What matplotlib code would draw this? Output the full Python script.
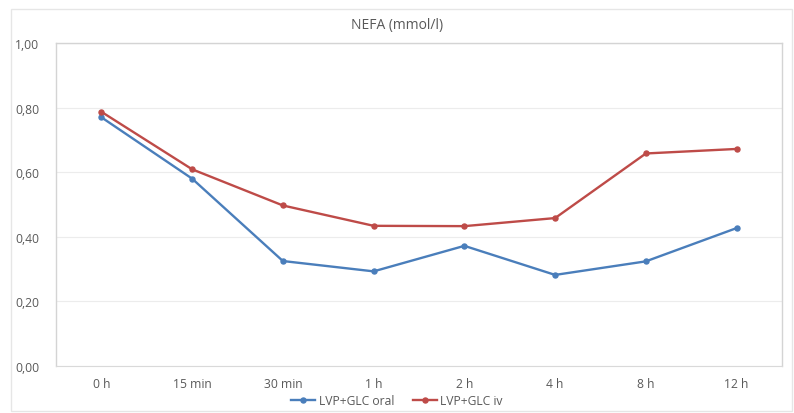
import matplotlib
matplotlib.use("Agg")
import matplotlib.pyplot as plt
from matplotlib.patches import Rectangle
from matplotlib.ticker import FuncFormatter

plt.rcParams['font.family'] = ['Open Sans', 'DejaVu Sans']

timepoints = ["0 h", "15 min", "30 min", "1 h", "2 h", "4 h", "8 h", "12 h"]
nefa_oral = [0.77, 0.58, 0.325, 0.293, 0.372, 0.282, 0.324, 0.427]
nefa_iv = [0.787, 0.609, 0.497, 0.434, 0.433, 0.458, 0.658, 0.672]

text_grey = "#595959"
blue = "#4a7ebb"
red = "#be4b48"

fig = plt.figure(figsize=(7.94, 4.14), dpi=100)
fig.patch.set_facecolor("white")

# outer chart frame
fig.patches.append(Rectangle((11 / 794, 2 / 414), 781 / 794, 402 / 414,
                             transform=fig.transFigure, fill=False,
                             edgecolor="#e6e6e6", linewidth=1.0))

ax = fig.add_axes([56 / 794, 47 / 414, 726 / 794, 323 / 414])
x = range(len(timepoints))
ax.plot(x, nefa_oral, color=blue, linewidth=1.7, marker="o", markersize=3.6,
        label="LVP+GLC oral")
ax.plot(x, nefa_iv, color=red, linewidth=1.7, marker="o", markersize=3.6,
        label="LVP+GLC iv")

ax.set_xlim(-0.5, len(timepoints) - 0.5)
ax.set_ylim(0, 1.0)
ax.set_yticks([0, 0.2, 0.4, 0.6, 0.8, 1.0])
ax.yaxis.set_major_formatter(FuncFormatter(lambda v, p: f"{v:.2f}".replace(".", ",")))
ax.set_xticks(list(x))
ax.set_xticklabels(timepoints)
ax.grid(axis="y", color="#ececec", linewidth=0.8)
ax.set_axisbelow(True)

for side in ["left", "right", "top"]:
    ax.spines[side].set_color("#d4d4d4")
    ax.spines[side].set_linewidth(1.0)
ax.spines["bottom"].set_color("#d9d9d9")
ax.tick_params(axis="both", length=0, colors=text_grey, labelsize=8.7)
ax.tick_params(axis="x", pad=8)
ax.tick_params(axis="y", pad=12)

fig.text(0.5, 1 - 25 / 414, "NEFA (mmol/l)", ha="center", va="center",
         fontsize=10, color=text_grey)

leg = fig.legend(loc="center", bbox_to_anchor=(0.5, 1 - 402 / 414), ncol=2,
                 frameon=False, fontsize=8.7, handlelength=2.0, columnspacing=1.5,
                 handletextpad=0.3)
for t in leg.get_texts():
    t.set_color(text_grey)

fig.savefig("out.png", dpi=100)
